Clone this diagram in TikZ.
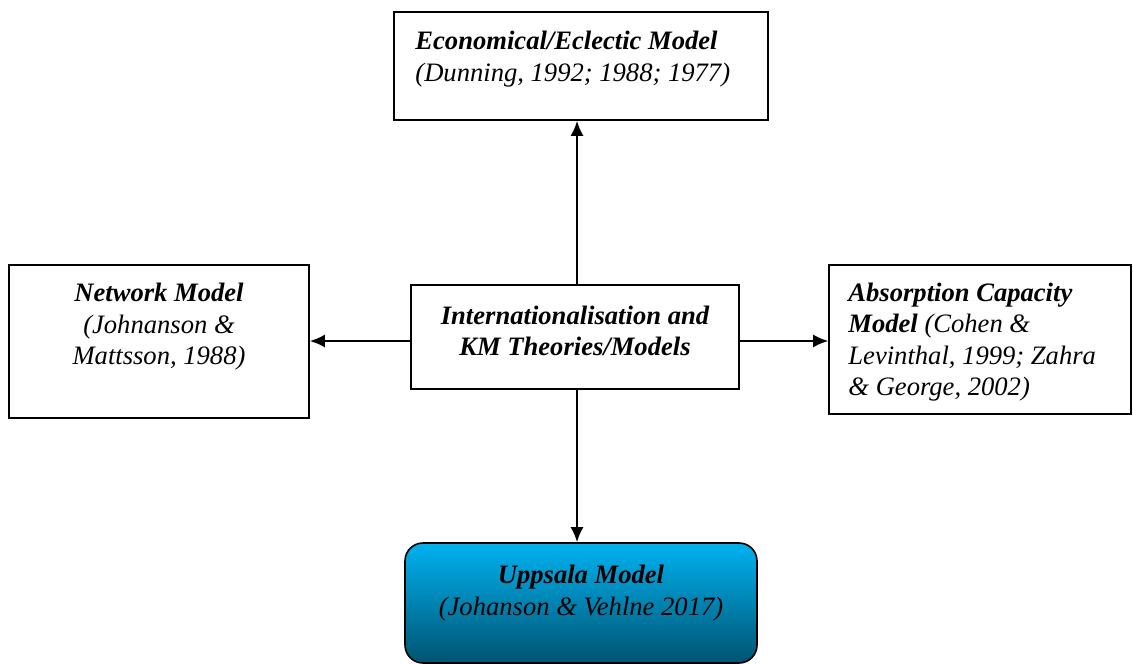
\documentclass[tikz,border=0pt]{standalone}
\usepackage{fontspec}
\setmainfont{Liberation Serif}
\usetikzlibrary{arrows.meta}
\definecolor{uppsalatop}{RGB}{0,178,240}
\definecolor{uppsalabot}{RGB}{0,84,114}
\begin{document}
\begin{tikzpicture}[x=0.5pt, y=-0.5pt, >={Latex[length=7.5pt,width=6.5pt]},
    font=\fontsize{13.3}{15.8}\selectfont\itshape,
    box/.style={draw, line width=0.8pt, inner sep=0pt},
    txt/.style={inner sep=0pt},
    link/.style={->, line width=1pt}]
  \useasboundingbox (0,0) rectangle (1133,663);
  % cajas
  \node[box, minimum width=187pt, minimum height=54pt] (eco) at (581,66) {};
  \node[box, minimum width=164pt, minimum height=52pt] (core) at (575,337) {};
  \node[box, minimum width=150pt, minimum height=76.5pt] (net) at (159,341.5) {};
  \node[box, minimum width=151pt, minimum height=74.5pt] (absorb) at (980,339.5) {};
  \node[draw, line width=0.8pt, rounded corners=9pt, inner sep=0pt,
        top color=uppsalatop, bottom color=uppsalabot,
        minimum width=176pt, minimum height=60pt] (upp) at (581,603) {};
  % textos
  \node[txt, anchor=west, align=left] (ecotxt) at (415,59)
    {\textbf{Economical/Eclectic Model}\\(Dunning, 1992; 1988; 1977)};
  \node[txt, align=center] (coretxt) at (575,331)
    {\textbf{Internationalisation and}\\\textbf{KM Theories/Models}};
  \node[txt, align=center] (nettxt) at (159,327)
    {\textbf{Network Model}\\(Johnanson \&\\Mattsson, 1988)};
  \node[txt, anchor=west, align=left] (absorbtxt) at (848,342)
    {\textbf{Absorption Capacity}\\\textbf{Model} (Cohen \&\\Levinthal, 1999; Zahra\\\& George, 2002)};
  \node[txt, align=center] (upptxt) at (581,593)
    {\textbf{Uppsala Model}\\(Johanson \& Vehlne 2017)};
  % flechas
  \draw[link] (core.north -| 577,0) -- (eco.south -| 577,0);
  \draw[link] (core.west |- 0,341) -- (net.east |- 0,341);
  \draw[link] (core.east |- 0,341) -- (absorb.west |- 0,341);
  \draw[link] (core.south -| 577,0) -- (upp.north -| 577,0);
\end{tikzpicture}
\end{document}
